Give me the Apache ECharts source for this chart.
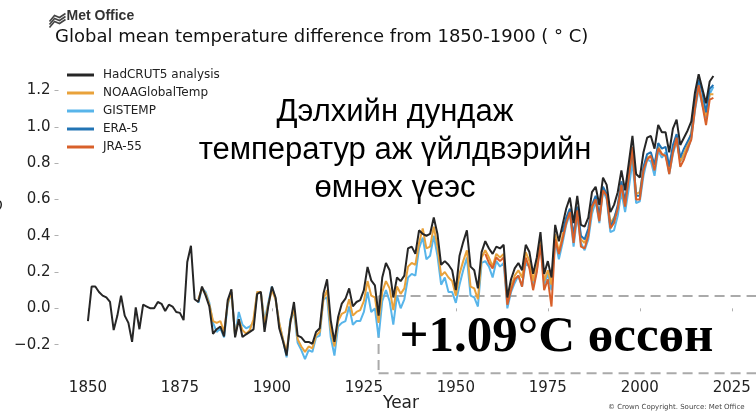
<!DOCTYPE html>
<html>
<head>
<meta charset="utf-8">
<script src="https://cdn.jsdelivr.net/npm/echarts@6/dist/echarts.min.js"></script>
<style>
html,body{margin:0;padding:0;background:#fff;}
#c{width:756px;height:412px;}
</style>
</head>
<body>
<div id="c"></div>
<script>
// ---------- data (°C difference from 1850-1900) ----------
const hadcrutStart = 1850;
const hadcrut5 = [
  -0.07, 0.12, 0.12, 0.09, 0.07, 0.06, 0.035, -0.12, -0.04, 0.07,          // 1850s
  -0.04, -0.08, -0.185, 0.005, -0.115, 0.02, 0.01, 0.0, 0.0, 0.035,       // 1860s
  0.025, -0.015, 0.02, 0.01, -0.02, -0.025, -0.065, 0.255, 0.345, 0.05,   // 1870s
  0.035, 0.12, 0.07, 0.01, -0.14, -0.115, -0.10, -0.155, 0.045, 0.105,    // 1880s
  -0.16, -0.06, -0.158, -0.143, -0.13, -0.116, 0.08, 0.09, -0.13, 0.01,   // 1890s
  0.12, 0.06, -0.11, -0.18, -0.26, -0.08, 0.035, -0.15, -0.16, -0.185,    // 1900s
  -0.185, -0.195, -0.13, -0.11, 0.08, 0.16, -0.066, -0.185, -0.048, 0.026,// 1910s
  0.053, 0.11, 0.011, 0.035, 0.045, 0.10, 0.228, 0.154, 0.127, -0.04,     // 1920s
  0.17, 0.25, 0.21, 0.06, 0.17, 0.15, 0.18, 0.33, 0.34, 0.30,             // 1930s
  0.43, 0.41, 0.40, 0.41, 0.50, 0.41, 0.24, 0.26, 0.24, 0.21,             // 1940s
  0.10, 0.29, 0.365, 0.43, 0.23, 0.21, 0.11, 0.31, 0.37, 0.33,            // 1950s
  0.30, 0.34, 0.33, 0.35, 0.06, 0.16, 0.22, 0.25, 0.21, 0.35,             // 1960s
  0.31, 0.19, 0.28, 0.42, 0.19, 0.26, 0.17, 0.46, 0.37, 0.46,             // 1970s
  0.55, 0.61, 0.47, 0.62, 0.46, 0.45, 0.50, 0.64, 0.67, 0.57,             // 1980s
  0.72, 0.68, 0.53, 0.57, 0.64, 0.76, 0.65, 0.80, 0.95, 0.74,             // 1990s
  0.72, 0.86, 0.94, 0.95, 0.88, 1.01, 0.97, 0.97, 0.86, 0.99,             // 2000s
  1.04, 0.90, 0.94, 0.98, 1.03, 1.19, 1.29, 1.21, 1.13, 1.25,             // 2010s
  1.28                                                                    // 2020
];

const noaaStart = 1880;
const noaaGlobalTemp = [
  0.05, 0.11, 0.08, 0.02, -0.07, -0.08, -0.07, -0.13, 0.03, 0.09,         // 1880s
  -0.15, -0.06, -0.12, -0.14, -0.12, -0.06, 0.09, 0.09, -0.09, 0.02,      // 1890s
  0.10, 0.05, -0.08, -0.17, -0.24, -0.08, 0.00, -0.17, -0.21, -0.24,      // 1900s
  -0.21, -0.22, -0.15, -0.13, 0.05, 0.10, -0.12, -0.21, -0.07, -0.03,     // 1910s
  -0.02, 0.05, -0.04, -0.02, -0.01, 0.04, 0.15, 0.07, 0.06, -0.08,        // 1920s
  0.09, 0.15, 0.11, -0.01, 0.12, 0.08, 0.11, 0.23, 0.25, 0.24,            // 1930s
  0.36, 0.44, 0.33, 0.34, 0.45, 0.34, 0.18, 0.20, 0.17, 0.15,             // 1940s
  0.07, 0.19, 0.26, 0.32, 0.12, 0.11, 0.05, 0.28, 0.32, 0.28,             // 1950s
  0.23, 0.30, 0.28, 0.30, 0.03, 0.12, 0.18, 0.21, 0.17, 0.31,             // 1960s
  0.26, 0.15, 0.26, 0.39, 0.15, 0.21, 0.13, 0.41, 0.31, 0.40,             // 1970s
  0.49, 0.54, 0.39, 0.56, 0.38, 0.36, 0.42, 0.55, 0.61, 0.51,             // 1980s
  0.66, 0.63, 0.47, 0.50, 0.55, 0.68, 0.57, 0.74, 0.86, 0.63,             // 1990s
  0.64, 0.77, 0.83, 0.84, 0.79, 0.89, 0.85, 0.84, 0.77, 0.87,             // 2000s
  0.93, 0.81, 0.85, 0.90, 0.97, 1.14, 1.22, 1.14, 1.06, 1.18,             // 2010s
  1.18                                                                    // 2020
];

const gistempStart = 1880;
const gistemp = [
  0.03, 0.11, 0.09, 0.03, -0.08, -0.13, -0.11, -0.16, 0.02, 0.09,         // 1880s
  -0.15, -0.02, -0.09, -0.11, -0.10, -0.08, 0.09, 0.09, -0.07, 0.03,      // 1890s
  0.12, 0.05, -0.08, -0.17, -0.27, -0.06, -0.02, -0.19, -0.23, -0.28,     // 1900s
  -0.23, -0.24, -0.16, -0.15, 0.05, 0.06, -0.16, -0.26, -0.10, -0.08,     // 1910s
  -0.07, 0.01, -0.09, -0.07, -0.07, -0.02, 0.09, -0.02, 0.00, -0.16,      // 1920s
  0.04, 0.10, 0.04, -0.09, 0.07, 0.00, 0.05, 0.17, 0.19, 0.18,            // 1930s
  0.33, 0.39, 0.27, 0.29, 0.40, 0.29, 0.13, 0.17, 0.09, 0.09,             // 1940s
  0.03, 0.13, 0.21, 0.28, 0.07, 0.06, 0.01, 0.25, 0.26, 0.23,             // 1950s
  0.17, 0.26, 0.23, 0.25, 0.00, 0.09, 0.14, 0.18, 0.12, 0.25,             // 1960s
  0.23, 0.12, 0.21, 0.36, 0.13, 0.19, 0.10, 0.38, 0.27, 0.36,             // 1970s
  0.46, 0.52, 0.34, 0.51, 0.36, 0.32, 0.38, 0.52, 0.59, 0.47,             // 1980s
  0.65, 0.60, 0.42, 0.43, 0.51, 0.64, 0.53, 0.66, 0.81, 0.58,             // 1990s
  0.59, 0.73, 0.82, 0.81, 0.73, 0.87, 0.83, 0.86, 0.74, 0.85,             // 2000s
  0.92, 0.81, 0.84, 0.87, 0.94, 1.09, 1.21, 1.12, 1.05, 1.18,             // 2010s
  1.22                                                                    // 2020
];

const era5Start = 1979;
const era5 = [
  0.42,                                                                   // 1979
  0.50, 0.55, 0.40, 0.56, 0.40, 0.38, 0.44, 0.57, 0.62, 0.51,             // 1980s
  0.67, 0.63, 0.45, 0.49, 0.57, 0.70, 0.59, 0.74, 0.88, 0.62,             // 1990s
  0.62, 0.78, 0.85, 0.86, 0.79, 0.91, 0.88, 0.89, 0.78, 0.90,             // 2000s
  0.96, 0.83, 0.88, 0.92, 0.96, 1.13, 1.26, 1.19, 1.08, 1.21,             // 2010s
  1.23                                                                    // 2020
];

const jra55Start = 1958;
const jra55 = [
  0.30, 0.25,                                                             // 1958-59
  0.22, 0.28, 0.26, 0.28, 0.02, 0.10, 0.16, 0.18, 0.12, 0.28,             // 1960s
  0.22, 0.10, 0.20, 0.35, 0.10, 0.16, 0.01, 0.38, 0.30, 0.38,             // 1970s
  0.47, 0.53, 0.36, 0.54, 0.34, 0.33, 0.40, 0.56, 0.60, 0.48,             // 1980s
  0.65, 0.62, 0.44, 0.47, 0.55, 0.68, 0.56, 0.72, 0.89, 0.60,             // 1990s
  0.60, 0.76, 0.82, 0.84, 0.76, 0.88, 0.85, 0.84, 0.74, 0.86,             // 2000s
  0.94, 0.78, 0.82, 0.88, 0.93, 1.10, 1.23, 1.12, 1.01, 1.15,             // 2010s
  1.16                                                                    // 2020
];

const seriesNames = ['HadCRUT5 analysis', 'NOAAGlobalTemp', 'GISTEMP', 'ERA-5', 'JRA-55'];
const xTicks = [1850, 1875, 1900, 1925, 1950, 1975, 2000, 2025];
const yTicks = [-0.2, 0.0, 0.2, 0.4, 0.6, 0.8, 1.0, 1.2];

// annotation (pre-industrial reference box)
const boxYear = 1929;
const boxTop = 0.068;
const boxBottom = -0.357;

// ---------- chart ----------
const colors = {
  'HadCRUT5 analysis': '#262626',
  'NOAAGlobalTemp': '#E9A23B',
  'GISTEMP': '#58B5EA',
  'ERA-5': '#2274B4',
  'JRA-55': '#D8602A'
};

function toPairs(start, vals) {
  return vals.map((v, i) => [start + i, v]);
}

function lineSeries(name, start, vals) {
  return {
    name: name,
    type: 'line',
    data: toPairs(start, vals),
    showSymbol: false,
    symbol: 'none',
    lineStyle: { width: 2, color: colors[name] },
    itemStyle: { color: colors[name] },
    emphasis: { disabled: true },
    z: 2
  };
}

const chart = echarts.init(document.getElementById('c'), null, { renderer: 'canvas', width: 756, height: 412 });

const fmtY = v => (v < 0 ? '\u2212' : '') + Math.abs(v).toFixed(1);
const fmtX = v => String(Math.round(v));

chart.setOption({
  animation: false,
  backgroundColor: '#ffffff',
  grid: { left: 58.5, right: 9.5, top: 63.3, bottom: 36.5 },
  xAxis: {
    type: 'value', min: 1842, max: 2029,
    axisLine: { show: false },
    splitLine: { show: false },
    axisTick: { show: true, customValues: xTicks, length: 3, lineStyle: { color: '#b0b0b0', width: 1 } },
    axisLabel: { customValues: xTicks, margin: 5, fontSize: 15, color: '#222', fontFamily: 'DejaVu Sans', formatter: fmtX }
  },
  yAxis: {
    type: 'value', min: -0.37, max: 1.35,
    axisLine: { show: false },
    splitLine: { show: false },
    axisTick: { show: true, customValues: yTicks, length: 4, lineStyle: { color: '#b0b0b0', width: 1 } },
    axisLabel: { customValues: yTicks, margin: 8, fontSize: 15, color: '#222', fontFamily: 'DejaVu Sans', formatter: fmtY }
  },
  legend: {
    data: seriesNames,
    orient: 'vertical',
    left: 67, top: 68,
    padding: 0,
    icon: 'rect',
    itemWidth: 27, itemHeight: 3,
    itemGap: 4,
    selectedMode: false,
    textStyle: { fontSize: 12, fontFamily: 'DejaVu Sans', color: '#222', lineHeight: 14, padding: [0, 0, 0, 4] }
  },
  series: [
    lineSeries('GISTEMP', gistempStart, gistemp),
    lineSeries('NOAAGlobalTemp', noaaStart, noaaGlobalTemp),
    lineSeries('ERA-5', era5Start, era5),
    lineSeries('JRA-55', jra55Start, jra55),
    lineSeries('HadCRUT5 analysis', hadcrutStart, hadcrut5)
  ]
});

const pTop = chart.convertToPixel({ gridIndex: 0 }, [boxYear, boxTop]);
const pBot = chart.convertToPixel({ gridIndex: 0 }, [boxYear, boxBottom]);
const W = 756;
const dash = { stroke: '#aaaaaa', lineWidth: 2, lineDash: [10, 6] };

chart.setOption({
  graphic: [
    { type: 'line', shape: { x1: pTop[0], y1: pTop[1], x2: W, y2: pTop[1] }, style: dash, z: 1 },
    { type: 'line', shape: { x1: pBot[0], y1: pBot[1], x2: W, y2: pBot[1] }, style: dash, z: 1 },
    { type: 'line', shape: { x1: pTop[0], y1: pTop[1], x2: pBot[0], y2: pBot[1] }, style: dash, z: 1 },
    // Met Office logo
    { type: 'group', left: 47, top: 11, children: [
      { type: 'polyline', shape: { points: [[0, 8], [5, 2], [10, 4], [16, 0]] }, style: { stroke: '#444', lineWidth: 1.6, fill: null } },
      { type: 'polyline', shape: { points: [[0, 11], [5, 5], [10, 7], [16, 3]] }, style: { stroke: '#444', lineWidth: 1.6, fill: null } },
      { type: 'polyline', shape: { points: [[0, 14], [5, 8], [10, 10], [16, 6]] }, style: { stroke: '#444', lineWidth: 1.6, fill: null } }
    ]},
    { type: 'text', x: 66.5, y: 16, style: { text: 'Met Office', font: 'bold 14px "Liberation Sans"', fill: '#333', textVerticalAlign: 'middle' } },
    { type: 'text', x: 55, y: 37, style: { text: 'Global mean temperature difference from 1850-1900 ( \u00b0 C)', font: '18px "DejaVu Sans"', fill: '#111', textVerticalAlign: 'middle' } },
    { type: 'text', x: 395, y: 93, style: { text: 'Дэлхийн дундаж\nтемператур аж үйлдвэрийн\nөмнөх үеэс', font: '31px "Liberation Sans"', fill: '#000', textAlign: 'center', textVerticalAlign: 'top', lineHeight: 38 }, z: 10 },
    { type: 'text', x: 556.5, y: 338, style: { text: '+1.09\u00b0C өссөн', font: 'bold 51px "Liberation Serif"', fill: '#000', textAlign: 'center', textVerticalAlign: 'middle' }, z: 10 },
    { type: 'text', x: 401, y: 404, style: { text: 'Year', font: '17px "DejaVu Sans"', fill: '#222', textAlign: 'center', textVerticalAlign: 'middle' } },
    { type: 'text', x: 608, y: 407.5, style: { text: '\u00a9 Crown Copyright. Source: Met Office', font: '7px "DejaVu Sans"', fill: '#444', textVerticalAlign: 'middle' } },
    { type: 'text', x: -2, y: 210, rotation: Math.PI / 2, style: { text: '\u00b0C', font: '17px "DejaVu Sans"', fill: '#222', textAlign: 'center', textVerticalAlign: 'middle' } }
  ]
});
</script>
</body>
</html>
